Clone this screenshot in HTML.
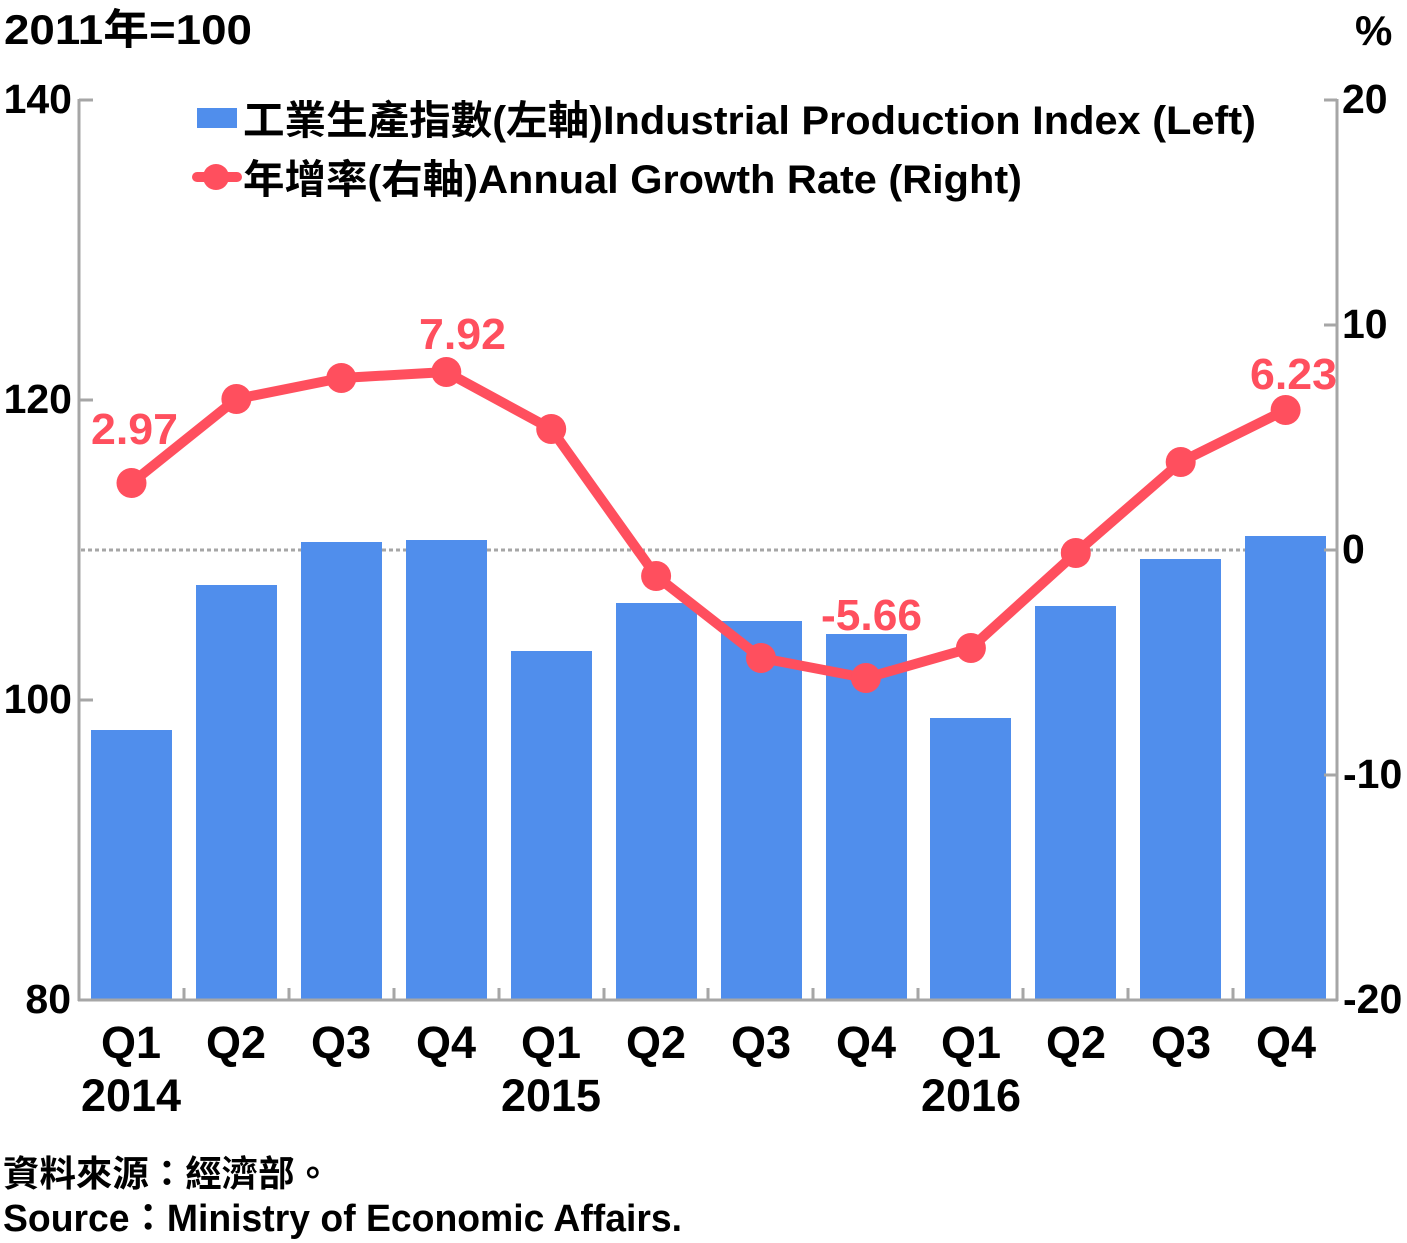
<!DOCTYPE html>
<html>
<head>
<meta charset="utf-8">
<style>
html,body{margin:0;padding:0;background:#fff;}
svg{display:block;}
text{font-family:"Liberation Sans","Noto Sans CJK TC",sans-serif;font-weight:bold;}
</style>
</head>
<body>
<svg width="1407" height="1243" viewBox="0 0 1407 1243" xmlns="http://www.w3.org/2000/svg">
  <!-- titles -->
  <text x="4" y="44" font-size="42" fill="#000" textLength="248" lengthAdjust="spacingAndGlyphs">2011年=100</text>
  <text x="1355" y="45" font-size="42" fill="#000">%</text>

  <!-- zero dotted line -->
  <line x1="81" y1="550" x2="1336" y2="550" stroke="#a6a6a6" stroke-width="3" stroke-dasharray="4,3"/>

  <!-- bars -->
  <g fill="#508eec">
    <rect x="91" y="730" width="81" height="270"/>
    <rect x="196" y="585" width="81" height="415"/>
    <rect x="301" y="542" width="81" height="458"/>
    <rect x="406" y="540" width="81" height="460"/>
    <rect x="511" y="651" width="81" height="349"/>
    <rect x="616" y="603" width="81" height="397"/>
    <rect x="721" y="621" width="81" height="379"/>
    <rect x="826" y="634" width="81" height="366"/>
    <rect x="930" y="718" width="81" height="282"/>
    <rect x="1035" y="606" width="81" height="394"/>
    <rect x="1140" y="559" width="81" height="441"/>
    <rect x="1245" y="536" width="81" height="464"/>
  </g>

  <!-- axes -->
  <g stroke="#a6a6a6" stroke-width="3" fill="none">
    <line x1="79" y1="99" x2="79" y2="1001"/>
    <line x1="1337" y1="99" x2="1337" y2="1001"/>
    <line x1="78" y1="1000" x2="1338" y2="1000"/>
    <!-- left ticks -->
    <line x1="79" y1="100" x2="93" y2="100"/>
    <line x1="79" y1="400" x2="93" y2="400"/>
    <line x1="79" y1="700" x2="93" y2="700"/>
    <!-- right ticks -->
    <line x1="1324" y1="100" x2="1337" y2="100"/>
    <line x1="1324" y1="325" x2="1337" y2="325"/>
    <line x1="1324" y1="550" x2="1337" y2="550"/>
    <line x1="1324" y1="775" x2="1337" y2="775"/>
    <!-- category ticks -->
    <line x1="184" y1="988" x2="184" y2="1000"/>
    <line x1="289" y1="988" x2="289" y2="1000"/>
    <line x1="394" y1="988" x2="394" y2="1000"/>
    <line x1="499" y1="988" x2="499" y2="1000"/>
    <line x1="604" y1="988" x2="604" y2="1000"/>
    <line x1="708" y1="988" x2="708" y2="1000"/>
    <line x1="813" y1="988" x2="813" y2="1000"/>
    <line x1="918" y1="988" x2="918" y2="1000"/>
    <line x1="1023" y1="988" x2="1023" y2="1000"/>
    <line x1="1128" y1="988" x2="1128" y2="1000"/>
    <line x1="1233" y1="988" x2="1233" y2="1000"/>
  </g>

  <!-- left axis labels -->
  <g font-size="41" fill="#000" text-anchor="end">
    <text x="72" y="113">140</text>
    <text x="72" y="413">120</text>
    <text x="72" y="713">100</text>
    <text x="71" y="1013">80</text>
  </g>
  <!-- right axis labels -->
  <g font-size="41" fill="#000">
    <text x="1342" y="113">20</text>
    <text x="1342" y="338">10</text>
    <text x="1342" y="563">0</text>
    <text x="1343" y="788">-10</text>
    <text x="1343" y="1013">-20</text>
  </g>

  <!-- x labels -->
  <g font-size="45" fill="#000" text-anchor="middle">
    <text x="131" y="1058">Q1</text>
    <text x="236" y="1058">Q2</text>
    <text x="341" y="1058">Q3</text>
    <text x="446" y="1058">Q4</text>
    <text x="551" y="1058">Q1</text>
    <text x="656" y="1058">Q2</text>
    <text x="761" y="1058">Q3</text>
    <text x="866" y="1058">Q4</text>
    <text x="971" y="1058">Q1</text>
    <text x="1076" y="1058">Q2</text>
    <text x="1181" y="1058">Q3</text>
    <text x="1286" y="1058">Q4</text>
    <text x="131" y="1111">2014</text>
    <text x="551" y="1111">2015</text>
    <text x="971" y="1111">2016</text>
  </g>

  <!-- growth line -->
  <polyline points="131.5,483 236.4,399 341.3,378 446.3,372 551.2,429 656.1,576 761,658 865.9,678 970.9,648 1075.8,553 1180.7,462 1285.6,410"
    fill="none" stroke="#ff4f5e" stroke-width="10" stroke-linejoin="round"/>
  <g fill="#ff4f5e">
    <circle cx="131.5" cy="483" r="15"/>
    <circle cx="236.4" cy="399" r="15"/>
    <circle cx="341.3" cy="378" r="15"/>
    <circle cx="446.3" cy="372" r="15"/>
    <circle cx="551.2" cy="429" r="15"/>
    <circle cx="656.1" cy="576" r="15"/>
    <circle cx="761" cy="658" r="15"/>
    <circle cx="865.9" cy="678" r="15"/>
    <circle cx="970.9" cy="648" r="15"/>
    <circle cx="1075.8" cy="553" r="15"/>
    <circle cx="1180.7" cy="462" r="15"/>
    <circle cx="1285.6" cy="410" r="15"/>
  </g>

  <!-- data labels -->
  <g font-size="44" fill="#ff4f5e">
    <text x="91" y="444" textLength="87" lengthAdjust="spacingAndGlyphs">2.97</text>
    <text x="419" y="349" textLength="87" lengthAdjust="spacingAndGlyphs">7.92</text>
    <text x="821" y="630" textLength="101" lengthAdjust="spacingAndGlyphs">-5.66</text>
    <text x="1250" y="389" textLength="87" lengthAdjust="spacingAndGlyphs">6.23</text>
  </g>

  <!-- legend -->
  <rect x="197" y="108" width="40" height="20" fill="#508eec"/>
  <text x="243" y="134" font-size="40" fill="#000" textLength="1013" lengthAdjust="spacingAndGlyphs">工業生產指數(左軸)Industrial Production Index (Left)</text>
  <line x1="197" y1="177" x2="237" y2="177" stroke="#ff4f5e" stroke-width="10" stroke-linecap="round"/>
  <circle cx="216" cy="177" r="13" fill="#ff4f5e"/>
  <text x="243" y="193" font-size="40" fill="#000" textLength="779" lengthAdjust="spacingAndGlyphs">年增率(右軸)Annual Growth Rate (Right)</text>

  <!-- source -->
  <text x="3" y="1186" font-size="36" fill="#000" textLength="328" lengthAdjust="spacingAndGlyphs">資料來源：經濟部。</text>
  <text x="3" y="1231" font-size="38" fill="#000" textLength="679" lengthAdjust="spacingAndGlyphs">Source：Ministry of Economic Affairs.</text>
</svg>
</body>
</html>
